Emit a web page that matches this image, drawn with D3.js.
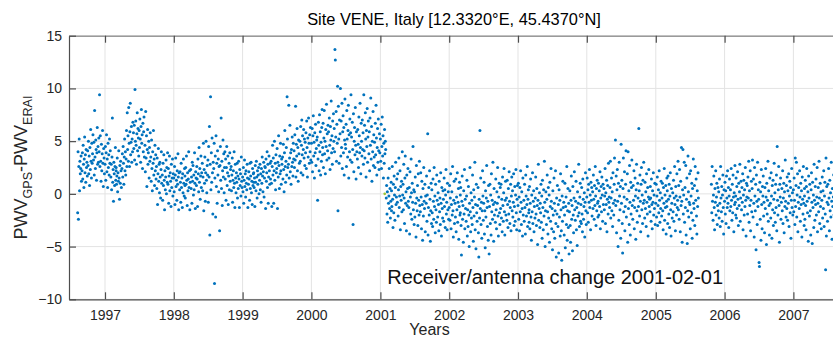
<!DOCTYPE html>
<html>
<head>
<meta charset="utf-8">
<script src="https://cdn.jsdelivr.net/npm/d3@7"></script>
<style>
  html, body { margin: 0; padding: 0; background: #fff; }
  svg { display: block; font-family: "Liberation Sans", Arial, Helvetica, sans-serif; }
</style>
</head>
<body>
<svg id="chart" width="833" height="343"></svg>
<script>
// PWV difference GPS minus ERA-Interim at site VENE, one value every two days.
// Each row is one month (15 samples, starting on the 1st). null = no data.
const pwv1996 = [ // from August
  null,null,null,null,-1.8,4.0,-2.4,2.6,5.2,0.3,3.1,1.9,2.4,3.6,1.2,
  2.2,3.9,1.4,4.6,2.8,0.6,3.3,5.4,2.0,3.7,1.1,4.2,2.5,3.0,1.7,
  4.1,2.7,5.0,1.9,3.6,0.8,4.4,2.3,6.1,3.1,1.5,4.8,2.9,3.8,5.6,
  3.2,4.9,1.8,7.9,3.5,2.4,5.1,4.2,1.3,3.9,6.3,2.8,4.5,3.0,5.3,
  4.0,9.4,2.6,5.5,3.1,1.2,4.7,2.2,3.8,6.0,2.9,0.7,4.3,3.4,1.9
];
const pwv1997 = [
  2.8,4.5,1.3,3.9,5.6,2.1,3.3,0.6,4.8,2.5,3.7,1.8,5.2,2.9,4.1,
  1.6,2.8,0.4,3.5,7.2,1.1,2.3,-0.7,3.0,1.9,0.8,2.6,4.4,1.3,2.2,
  2.5,0.9,1.7,3.4,0.2,2.0,1.2,4.1,1.5,-0.5,2.7,1.0,3.1,2.2,0.6,
  2.4,3.8,1.6,4.5,2.9,0.9,3.5,5.2,2.2,4.0,1.8,3.3,6.0,2.6,7.7,
  4.2,5.5,3.1,8.2,4.8,2.6,5.9,8.6,3.7,4.9,6.4,3.0,5.2,4.0,6.8,
  5.8,4.3,6.5,3.2,9.9,5.0,6.9,4.6,2.8,5.7,7.7,4.1,6.2,5.3,3.6,
  6.0,4.4,7.1,5.2,3.0,6.4,8.0,4.8,5.6,2.4,6.7,4.0,5.9,7.3,3.5,
  4.6,2.1,7.8,3.4,5.5,0.7,4.2,6.1,2.8,3.9,5.0,1.5,4.4,3.1,5.8,
  3.5,1.2,5.1,2.4,0.3,4.0,2.9,6.0,1.8,3.3,0.8,4.6,2.2,3.7,1.4,
  2.6,0.5,3.4,-1.0,1.9,4.3,1.2,2.8,0.1,3.0,1.6,-0.4,2.3,4.0,1.0,
  1.8,-0.6,2.9,0.8,3.7,1.3,-1.5,2.2,0.4,1.6,3.2,0.0,2.5,1.1,3.9,
  0.9,2.4,-0.9,1.7,3.6,0.3,2.0,1.2,-1.2,2.8,0.6,1.5,3.3,-0.2,1.9
];
const pwv1998 = [
  1.5,0.2,2.6,-1.0,1.8,3.4,0.7,1.3,-0.6,2.2,0.9,3.8,1.6,-1.5,2.0,
  0.4,2.1,1.1,-0.8,2.9,0.6,1.5,-1.3,1.9,0.1,3.3,1.0,-0.2,2.4,0.8,
  1.7,-0.4,2.5,0.9,3.6,1.3,-1.1,2.0,0.3,1.4,4.0,0.6,2.2,-1.5,1.1,
  2.3,0.5,1.6,-0.9,3.0,1.2,2.7,-0.1,1.8,0.4,3.9,1.0,-1.4,2.1,1.5,
  0.8,2.6,1.4,-1.2,3.3,1.9,0.2,4.4,1.1,2.4,-0.5,1.7,3.6,0.6,2.0,
  2.9,0.3,1.6,4.8,-1.6,2.3,1.0,3.5,-0.7,2.0,5.0,1.3,0.1,2.7,1.8,
  3.2,-0.8,4.5,1.6,6.4,-3.9,2.8,9.2,0.4,3.9,1.1,5.3,2.0,-1.9,3.0,
  2.4,4.8,-8.5,1.5,3.6,-2.2,5.5,0.7,2.9,-0.9,4.1,1.8,3.3,0.2,2.6,
  -3.5,2.7,4.5,1.3,7.2,0.5,3.1,-1.1,2.2,5.1,1.6,3.8,0.1,2.5,4.0,
  1.4,3.3,-0.6,2.5,4.5,0.8,2.0,3.6,-1.0,1.7,2.9,0.4,3.9,1.2,2.3,
  2.6,0.3,1.8,3.4,-0.8,1.3,2.2,0.6,4.0,1.0,-1.3,2.8,1.5,0.1,2.0,
  1.1,2.9,-0.4,1.7,0.5,3.1,1.4,-1.3,2.3,0.8,1.9,-0.2,3.5,1.2,0.6
];
const pwv1999 = [
  1.6,0.2,2.5,-0.9,1.3,3.2,0.7,1.9,-0.3,2.2,1.0,0.4,2.8,1.5,-1.3,
  0.9,2.1,1.4,-0.6,2.9,0.5,1.7,3.0,0.1,1.2,-1.0,2.4,0.8,1.9,1.1,
  2.0,0.6,1.5,-1.2,2.7,1.1,0.3,3.1,1.6,-0.4,2.2,0.9,1.8,2.5,0.0,
  1.3,2.8,0.4,1.9,-0.8,2.4,1.0,3.5,1.7,0.2,2.1,3.0,-0.3,1.5,2.6,
  2.5,-1.4,3.3,1.2,2.0,4.0,0.6,2.8,-0.9,1.6,3.6,2.2,0.9,2.9,1.4,
  3.1,1.0,-1.2,2.6,4.6,1.8,3.4,-0.9,2.2,5.0,1.3,2.9,0.4,3.7,2.0,
  2.4,4.3,-1.4,3.0,1.6,5.5,2.7,0.5,3.6,1.9,4.8,2.2,0.9,3.3,2.8,
  3.5,1.4,4.7,2.3,0.2,3.9,6.0,2.6,1.1,3.1,4.4,1.8,9.2,5.2,2.5,
  2.8,8.4,1.5,3.4,6.5,2.1,3.9,0.9,4.2,2.6,5.4,3.0,1.7,4.8,3.3,
  4.1,2.5,5.6,3.2,8.3,1.6,4.7,3.6,6.2,2.2,4.4,1.2,5.1,3.8,2.9,
  5.0,3.1,6.4,2.0,4.6,7.0,3.7,5.5,1.8,4.2,6.1,3.4,5.2,2.7,4.9,
  3.9,5.8,2.4,6.9,4.4,1.6,5.3,3.5,7.2,4.8,2.9,5.6,4.0,6.3,3.2
];
const pwv2000 = [
  4.8,3.0,6.2,2.1,5.5,7.4,3.6,4.9,1.5,5.8,3.9,6.6,2.7,4.3,5.1,
  5.4,-0.6,3.3,6.8,4.6,2.2,7.5,4.0,5.9,1.8,4.9,3.1,6.3,8.0,3.7,
  4.4,6.7,2.5,5.3,7.9,3.8,5.0,1.9,6.1,4.5,8.5,3.2,5.7,4.1,6.5,
  5.9,3.4,7.2,4.6,2.3,6.4,5.1,8.8,3.9,5.5,2.8,6.9,4.3,7.6,5.0,
  6.2,4.0,13.7,12.7,5.4,7.8,3.1,6.6,4.8,10.2,-1.6,8.3,5.2,2.9,7.0,
  5.7,10.0,3.6,6.9,4.4,8.6,2.4,5.9,7.4,3.9,6.3,1.8,5.1,9.0,4.7,
  4.3,6.6,2.6,7.9,5.2,3.5,6.0,8.4,1.5,5.6,4.0,7.1,3.2,5.8,9.4,
  5.4,3.0,6.8,4.2,-2.9,7.6,2.1,5.0,6.3,3.7,8.2,4.6,1.4,5.9,4.0,
  3.3,6.1,4.7,2.5,7.3,5.5,3.9,8.6,4.4,1.9,6.7,5.0,3.6,7.0,4.2,
  5.8,2.8,9.4,4.1,6.5,3.4,7.7,5.2,1.6,6.0,4.5,8.1,3.0,5.4,6.9,
  3.8,5.9,2.2,7.2,4.6,9.1,3.3,6.4,1.2,5.0,4.0,7.8,2.7,5.6,3.5,
  4.9,2.5,6.7,3.7,8.4,5.3,1.8,4.4,6.2,3.0,7.1,4.1,2.3,5.7,3.9
];
const pwv2001 = [
  5.2,3.1,6.6,2.4,4.5,7.3,3.6,5.5,1.5,4.8,2.9,6.1,3.8,5.0,4.2,
  -0.4,0.8,-1.9,0.2,-2.7,1.5,-0.9,-0.2,2.4,-1.4,0.5,-2.3,-0.7,1.1,-1.6,
  0.3,-1.2,2.6,-0.5,-3.2,0.9,-1.8,1.7,-0.1,-2.5,0.6,3.0,-1.0,-0.3,1.4,
  -0.8,1.9,-2.1,0.4,3.4,-1.3,-0.2,2.2,-3.4,0.7,-0.6,1.2,-1.7,4.0,-0.1,
  0.9,-1.5,2.8,-0.4,-2.8,1.5,3.6,-0.9,0.2,-3.5,1.8,-1.1,0.5,2.4,-0.7,
  -1.3,0.6,-3.8,2.1,-0.3,-1.9,3.3,0.1,-2.4,1.0,-0.8,4.5,-1.5,0.4,-2.9,
  0.2,-2.2,1.6,-0.9,-4.1,2.7,-0.4,-1.6,0.8,-3.0,1.9,-0.6,-2.0,3.1,-1.1,
  -1.7,2.0,-0.3,-3.3,1.2,-1.0,-4.4,0.5,-2.1,2.5,-0.7,-1.4,0.9,-3.6,-0.2,
  -0.9,1.7,-2.6,-0.1,5.7,-3.9,-1.3,0.6,-2.0,2.2,-0.5,-4.5,-1.6,1.0,-2.8,
  0.4,-1.8,-3.1,1.4,-0.7,-2.4,2.5,-1.2,-0.2,-3.7,0.9,-1.5,-2.7,1.8,-0.6,
  -2.2,0.1,-1.0,-3.5,1.2,-1.7,-0.4,-2.9,2.0,-0.9,-4.0,0.6,-1.4,-2.3,0.3,
  -0.5,-2.6,1.5,-1.2,0.4,-3.2,-0.1,2.3,-1.9,-0.8,-3.4,1.0,-1.5,0.2,-2.4
];
const pwv2002 = [
  -1.3,0.8,-2.5,-0.4,1.9,-3.3,-1.0,0.2,-2.0,2.6,-1.6,-4.1,-0.6,1.2,-2.8,
  -0.9,-2.2,1.4,-3.6,-0.3,-1.5,2.0,-2.7,-0.8,0.5,-4.3,-1.2,1.1,-2.0,-0.1,
  -1.8,0.6,-3.0,-5.8,-0.7,1.7,-2.4,-1.1,-4.6,0.3,-1.9,2.3,-3.3,-0.5,-1.4,
  -2.6,-0.2,1.3,-4.0,-1.5,-3.1,0.7,-2.0,-5.0,-0.9,2.5,-1.7,-3.6,0.1,-2.3,
  -0.6,-2.9,1.8,-1.3,-4.5,0.4,-2.1,-0.3,3.0,-3.4,-1.0,-5.2,0.9,-1.8,-2.6,
  -1.1,0.6,-3.7,-6.0,-0.5,-2.3,6.0,-1.4,1.5,-2.9,-0.8,-4.2,-1.6,2.2,-0.2,
  -2.5,-0.9,1.1,-3.8,-1.6,-5.1,0.3,-2.2,-0.4,2.7,-1.3,-3.1,-0.7,-4.4,0.8,
  -5.7,-1.2,0.9,-2.8,-0.1,-3.9,1.9,-1.7,-0.6,-2.4,3.0,-1.0,-4.5,0.5,-2.0,
  -0.8,-2.7,1.4,-1.5,-3.3,0.2,-0.9,2.5,-2.1,-4.0,-0.3,1.0,-1.8,-2.9,0.6,
  -1.4,0.9,-2.3,-0.5,-3.6,1.6,-1.1,-2.6,0.1,2.4,-1.7,-3.9,-0.6,1.2,-2.0,
  -0.4,-2.5,1.3,-1.0,-3.2,0.5,-1.9,2.1,-0.7,-2.8,-1.3,0.9,-3.5,-0.2,1.6,
  -1.6,0.3,-2.2,-0.8,1.9,-3.0,-1.2,0.7,-2.6,-0.1,2.3,-1.8,-3.4,-0.5,0.8
];
const pwv2003 = [
  -1.1,1.0,-2.4,-0.3,-3.5,0.6,-1.7,2.2,-0.8,-2.9,0.2,-1.4,-4.0,1.5,-2.0,
  -0.6,-2.6,0.9,-1.3,-3.8,1.8,-0.2,-2.1,-1.0,2.6,-3.1,-0.5,0.4,-1.8,-2.7,
  -1.5,0.7,-3.3,-0.9,1.4,-2.2,-4.4,-0.1,-1.7,2.0,-2.8,-0.7,0.3,-3.6,-1.2,
  -2.3,-0.4,1.6,-1.9,-3.0,0.5,-1.1,-4.8,-0.6,2.8,-2.5,-1.4,0.1,-3.2,-0.9,
  -1.8,0.9,-2.7,-0.2,-4.2,1.3,-1.3,-3.4,0.4,-2.1,3.1,-0.8,-5.0,-1.6,0.2,
  -2.9,-0.5,1.8,-1.7,-3.8,0.6,-2.3,-0.1,-4.6,1.1,-1.2,-2.6,2.4,-0.7,-3.3,
  -1.4,-5.3,0.3,-2.0,-3.6,1.5,-0.9,-4.2,-1.6,2.2,-2.8,-6.0,-0.4,-1.9,0.8,
  -3.1,-1.0,-5.6,0.4,-2.2,-0.6,-4.0,1.9,-1.5,-3.5,-6.3,-0.2,-2.6,1.2,-1.3,
  -0.8,-3.9,-2.0,1.0,-5.1,-1.2,-0.3,-2.9,2.6,-4.4,-1.6,0.5,-3.2,-0.9,-5.7,
  -1.7,0.3,-3.0,-4.6,-0.6,1.7,-2.4,-1.1,-5.4,0.7,-2.0,-3.7,-0.4,2.1,-1.5,
  -2.5,-0.7,1.2,-3.4,-1.3,-4.9,0.2,-2.1,-0.9,2.8,-1.8,-3.1,-0.3,1.0,-2.6,
  -1.0,-2.8,0.6,-1.9,-3.6,1.4,-0.5,-2.4,-1.2,0.1,-4.1,-0.8,2.0,-1.6,-2.9
];
const pwv2004 = [
  -0.3,1.5,-1.8,0.4,-2.7,0.9,-0.8,2.3,-1.3,-0.1,-3.4,1.1,-0.6,0.6,-2.1,
  0.2,-1.4,1.8,-0.5,-2.4,0.8,-1.1,2.6,-0.2,-3.0,0.5,-1.6,1.3,-0.9,-2.2,
  -0.7,1.0,-2.0,0.3,-1.2,2.1,-3.3,-0.4,0.7,-1.7,1.6,-0.1,-2.6,0.9,-1.0,
  0.5,-1.5,-0.2,2.4,-2.8,0.1,-1.0,1.3,-3.6,-0.5,0.8,-1.9,2.9,-0.8,-0.3,
  -1.3,0.6,3.1,-2.3,-0.4,1.5,-1.6,0.2,-3.1,2.0,-0.9,-2.0,0.9,3.4,-0.6,
  5.1,-1.1,1.7,-3.7,0.4,2.3,-0.7,-5.0,1.0,-2.5,3.0,-0.2,-1.5,0.7,-4.2,
  4.7,-0.9,1.3,-2.8,-5.6,0.5,3.4,-1.7,-0.3,2.1,-3.5,-1.2,0.9,4.1,-2.2,
  -0.5,1.9,-4.6,4.0,-1.4,0.3,-2.9,2.7,-0.8,-3.9,1.1,-1.9,0.6,3.2,-1.1,
  -2.4,0.8,-0.6,2.2,-3.3,-1.3,1.5,-0.2,-4.3,0.4,2.8,-1.6,-2.7,1.0,-0.4,
  -1.2,6.2,0.3,-2.1,1.8,-0.7,-3.6,0.9,2.5,-1.5,-0.1,-2.8,1.3,-0.9,3.0,
  -0.6,-2.3,1.1,-1.4,0.2,-3.1,1.9,-0.8,-1.9,0.6,-4.0,-0.3,2.3,-1.2,-0.5,
  -1.7,0.7,-0.4,-2.6,1.4,-1.0,-3.3,0.3,-0.8,2.0,-2.0,-0.1,-1.4,1.0,-2.9
];
const pwv2005 = [
  -0.9,0.9,-2.2,-0.2,1.6,-3.0,-1.1,0.4,-1.8,2.2,-0.6,-2.7,0.1,-1.4,1.2,
  -2.1,-0.4,1.0,-1.6,-3.4,0.6,-0.9,2.4,-2.5,-0.1,-1.3,0.8,-3.8,-0.7,1.5,
  -1.2,0.3,-2.8,1.7,-0.5,-1.9,0.9,-3.2,-0.2,2.0,-1.5,-4.0,0.5,-0.9,-2.3,
  0.1,-1.7,1.3,-2.6,-0.4,2.6,-1.0,-3.5,0.7,-0.2,-2.0,1.9,-1.3,-0.6,3.1,
  -1.5,0.8,-2.4,2.3,-0.3,-3.6,1.2,-1.1,4.4,-0.7,-4.6,0.4,4.2,-1.9,-0.1,
  3.0,-2.7,0.6,-1.3,2.7,-3.9,-0.5,1.5,-4.7,-1.6,3.6,0.2,-2.2,-0.8,1.9,
  -1.0,-3.3,2.2,-0.2,-1.8,1.0,-4.2,0.5,-2.5,3.3,-0.9,-1.4,0.8,-3.0,2.6,
  -0.6,1.4,-2.1,-3.8,0.3,-1.2,2.0,-0.4,null,null,null,null,null,null,null,
  null,null,null,null,null,null,null,null,null,null,null,null,null,null,null,
  null,null,null,null,null,null,null,null,null,null,null,0.9,-1.8,2.6,-0.7,
  -2.5,-0.1,1.7,-1.3,-3.4,0.5,-0.8,2.2,-2.0,-0.3,1.0,-2.9,-1.1,0.6,-1.6,
  0.2,-2.3,1.4,-0.9,-3.1,2.6,-0.4,-1.7,0.7,-2.6,-0.1,1.8,-1.3,-3.8,0.4
];
const pwv2006 = [
  -0.7,1.1,-1.9,0.3,-2.8,1.7,-0.4,-1.3,2.2,-0.9,0.6,-3.2,-0.2,1.4,-1.6,
  0.4,-1.2,2.4,-0.6,-2.5,0.9,-1.8,1.8,-0.3,-3.6,0.1,-1.0,2.7,-0.8,-2.0,
  -0.2,1.5,-2.3,0.7,-1.4,2.1,-0.5,-3.0,1.0,-1.1,0.2,2.8,-2.6,-0.4,1.2,
  -1.5,0.6,-0.8,1.9,-3.4,-0.1,1.3,-2.0,0.4,-1.2,2.5,-0.6,-4.0,1.0,-0.3,
  0.8,-1.9,1.6,-0.4,3.1,-2.7,0.3,-1.1,2.2,-3.5,-0.6,1.2,-1.7,0.5,3.2,
  -2.2,1.4,-0.9,-4.1,2.5,-0.2,-1.6,0.9,-5.3,1.8,-0.7,-2.9,3.0,-1.2,0.4,
  -0.5,-6.5,-6.9,1.1,-2.4,0.2,-4.4,2.3,-1.0,-3.3,0.7,-0.2,1.7,-2.1,-0.8,
  -3.7,0.6,-1.4,2.4,-0.3,-4.8,1.0,-1.9,-0.6,3.1,-2.6,0.3,-1.1,-3.9,1.5,
  -0.9,-2.3,2.0,-0.2,-4.2,0.8,-1.5,1.3,-3.0,-0.5,2.9,-1.8,0.1,-2.7,0.9,
  -1.3,1.8,-3.5,4.5,-0.6,-2.0,0.4,2.6,-1.1,-4.6,0.9,-0.3,1.5,-2.4,-0.8,
  0.5,-1.6,2.2,-2.8,-0.4,1.0,-3.7,0.2,-1.2,3.2,-0.7,-2.2,0.8,-1.4,1.6,
  -2.5,0.3,-0.9,1.9,-3.1,-0.2,1.2,-1.8,0.6,-4.2,-0.6,2.4,-1.3,0.1,-2.0
];
const pwv2007 = [ // through August
  0.4,-1.7,1.5,-0.6,-2.9,3.4,-1.2,0.8,3.0,-2.2,-0.1,1.9,-3.6,-0.8,0.6,
  -1.4,2.2,-0.3,-2.6,1.0,-1.0,0.3,-4.1,1.6,-0.5,-1.9,2.6,-0.9,-3.0,0.5,
  -0.2,-2.4,1.3,-1.1,-3.4,0.7,2.4,-0.7,-1.8,0.2,-4.5,1.7,-0.4,-2.1,0.9,
  -1.6,-3.9,0.4,2.0,-0.8,-4.7,1.1,-1.3,-0.1,-3.2,2.8,-0.6,-2.5,0.7,-1.0,
  1.4,-2.0,-0.3,2.5,-3.6,-0.9,0.6,-1.7,3.1,-0.4,-2.8,1.0,-1.2,0.2,-3.3,
  -0.6,1.6,-2.3,0.3,-1.4,2.2,-3.1,-0.2,1.1,-1.9,-7.2,3.4,-4.0,0.7,-0.8,
  -2.6,0.9,-1.0,2.4,-0.4,-3.5,1.3,-1.6,0.1,-2.2,3.0,-0.7,-4.3,0.5,-1.2,
  -0.3,1.8,-2.0,-0.9,0.6,-3.0,2.1,-1.4,-0.2,-2.7,1.0,-0.6,-3.8,0.4,-1.5
];

// which year / first month (0-based) each block belongs to
const blocks = [
  { year: 1996, month: 7, values: pwv1996 },
  { year: 1997, month: 0, values: pwv1997 },
  { year: 1998, month: 0, values: pwv1998 },
  { year: 1999, month: 0, values: pwv1999 },
  { year: 2000, month: 0, values: pwv2000 },
  { year: 2001, month: 0, values: pwv2001 },
  { year: 2002, month: 0, values: pwv2002 },
  { year: 2003, month: 0, values: pwv2003 },
  { year: 2004, month: 0, values: pwv2004 },
  { year: 2005, month: 0, values: pwv2005 },
  { year: 2006, month: 0, values: pwv2006 },
  { year: 2007, month: 0, values: pwv2007 }
];
const samplesPerMonth = 15;

const yearTicks = [1997, 1998, 1999, 2000, 2001, 2002, 2003, 2004, 2005, 2006, 2007];
const yTicks = [-10, -5, 0, 5, 10, 15];
const changeDate = new Date(2001, 1, 1);
const changeLabel = "Receiver/antenna change 2001-02-01";
const titleText = "Site VENE, Italy [12.3320°E, 45.4370°N]";

// ---- build the point list ----
const points = [];
blocks.forEach(b => {
  b.values.forEach((v, i) => {
    if (v === null) return;
    const m = b.month + Math.floor(i / samplesPerMonth);
    const d = 1 + 2 * (i % samplesPerMonth);
    points.push({ date: new Date(b.year, m, d), value: v });
  });
});

// ---- layout ----
const svg = d3.select("#chart");
const plotL = 69, plotR = 839, plotT = 35.7, plotB = 299.3;
const axisColor = "#4d4d4d";
const textColor = "#262626";

const x = d3.scaleTime()
  .domain([new Date(1996, 5, 24), new Date(2007, 7, 31)])
  .range([plotL, plotR]);
const y = d3.scaleLinear().domain([-10, 15]).range([plotB, plotT]);

const yearDates = yearTicks.map(yr => new Date(yr, 0, 1));

// grid
const grid = svg.append("g").attr("stroke", "#e3e3e3").attr("stroke-width", 1);
grid.selectAll("line.v").data(yearDates).join("line")
  .attr("class", "v")
  .attr("x1", d => x(d)).attr("x2", d => x(d))
  .attr("y1", plotT).attr("y2", plotB);
grid.selectAll("line.h").data(yTicks).join("line")
  .attr("class", "h")
  .attr("x1", plotL).attr("x2", plotR)
  .attr("y1", d => y(d)).attr("y2", d => y(d));

// points
svg.append("defs").append("clipPath").attr("id", "plotClip")
  .append("rect").attr("x", plotL).attr("y", plotT)
  .attr("width", plotR - plotL).attr("height", plotB - plotT);

svg.append("g").attr("clip-path", "url(#plotClip)")
  .selectAll("circle").data(points).join("circle")
  .attr("cx", d => x(d.date))
  .attr("cy", d => y(d.value))
  .attr("r", 1.5)
  .attr("fill", "#0072BD");

// marker at the equipment change
svg.append("circle")
  .attr("cx", x(changeDate) - 1.5).attr("cy", y(0))
  .attr("r", 1.4).attr("fill", "#9bc43a");

// axes
const xAxis = d3.axisBottom(x)
  .tickValues(yearDates)
  .tickFormat(d3.timeFormat("%Y"))
  .tickSizeInner(-7).tickSizeOuter(0).tickPadding(11);
const gx = svg.append("g").attr("transform", `translate(0,${plotB})`).call(xAxis);

const xTop = d3.axisTop(x).tickValues(yearDates).tickFormat("")
  .tickSizeInner(-7).tickSizeOuter(0);
const gxt = svg.append("g").attr("transform", `translate(0,${plotT})`).call(xTop);

const yAxis = d3.axisLeft(y).tickValues(yTicks).tickFormat(d3.format("d"))
  .tickSizeInner(-7).tickSizeOuter(0).tickPadding(7);
const gy = svg.append("g").attr("transform", `translate(${plotL},0)`).call(yAxis);

[gx, gy].forEach(g => {
  g.select(".domain").attr("stroke", axisColor).attr("stroke-width", 1.2);
  g.selectAll(".tick line").attr("stroke", axisColor).attr("stroke-width", 1.2);
  g.selectAll(".tick text").attr("fill", textColor)
    .style("font-size", "14px").style("font-family", "Liberation Sans, Arial, sans-serif");
});
gxt.select(".domain").attr("stroke", "#9a9a9a").attr("stroke-width", 1.6);
gxt.selectAll(".tick line").attr("stroke", axisColor).attr("stroke-width", 1.2);

// title
svg.append("text")
  .attr("x", 454).attr("y", 25)
  .attr("text-anchor", "middle")
  .attr("fill", "#000")
  .style("font-size", "16.4px")
  .text(titleText);

// x label
svg.append("text")
  .attr("x", 429.5).attr("y", 335)
  .attr("text-anchor", "middle")
  .attr("fill", textColor)
  .style("font-size", "16px")
  .text("Years");

// y label with subscripts
const yl = svg.append("text")
  .attr("transform", `translate(27,${(plotT + plotB) / 2}) rotate(-90)`)
  .attr("text-anchor", "middle")
  .attr("fill", textColor)
  .style("font-size", "18px");
yl.append("tspan").text("PWV");
yl.append("tspan").attr("dy", 5).style("font-size", "12.6px").text("GPS");
yl.append("tspan").attr("dy", -5).text("-PWV");
yl.append("tspan").attr("dy", 5).style("font-size", "12.6px").text("ERAI");

// annotation of the receiver/antenna change
svg.append("text")
  .attr("x", x(changeDate) + 1)
  .attr("y", y(-8.55))
  .attr("fill", "#111")
  .style("font-size", "20px")
  .text(changeLabel);
</script>
</body>
</html>
